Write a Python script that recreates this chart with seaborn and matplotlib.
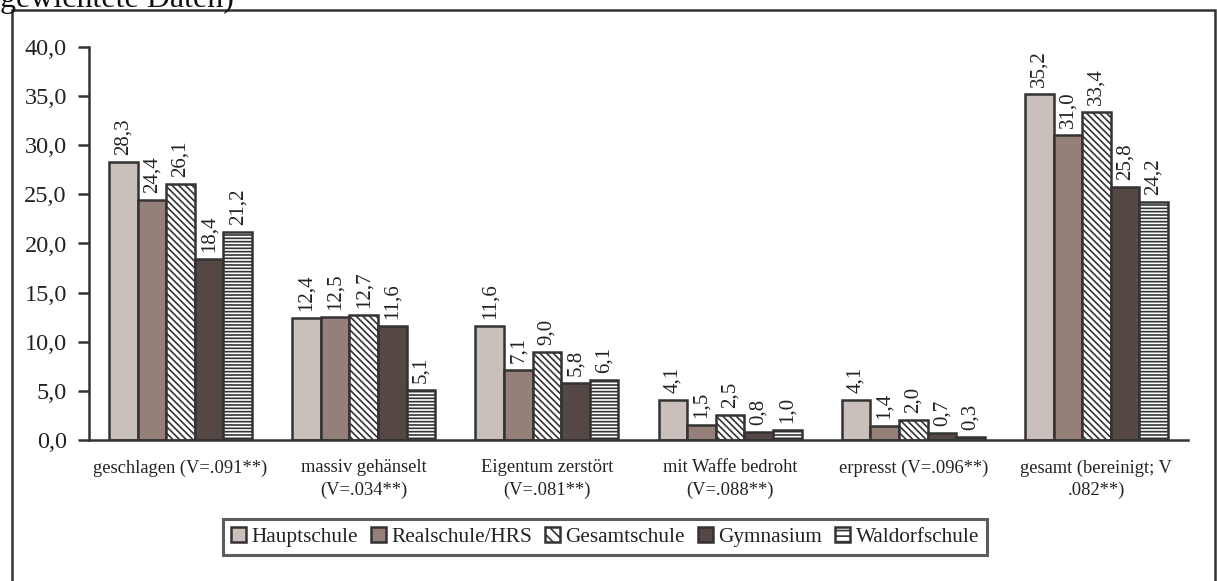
import numpy as np
import pandas as pd
import seaborn as sns
import matplotlib.pyplot as plt
from matplotlib.patches import Rectangle

categories = ['geschlagen (V=.091**)', 'massiv gehänselt\n(V=.034**)', 'Eigentum zerstört\n(V=.081**)',
              'mit Waffe bedroht\n(V=.088**)', 'erpresst (V=.096**)', 'gesamt (bereinigt; V\n.082**)']
schools = ['Hauptschule', 'Realschule/HRS', 'Gesamtschule', 'Gymnasium', 'Waldorfschule']
hauptschule = [28.3, 12.4, 11.6, 4.1, 4.1, 35.2]
realschule = [24.4, 12.5, 7.1, 1.5, 1.4, 31.0]
gesamtschule = [26.1, 12.7, 9.0, 2.5, 2.0, 33.4]
gymnasium = [18.4, 11.6, 5.8, 0.8, 0.7, 25.8]
waldorfschule = [21.2, 5.1, 6.1, 1.0, 0.3, 24.2]

series = [hauptschule, realschule, gesamtschule, gymnasium, waldorfschule]
rows = []
for s, vals in zip(schools, series):
    for c, v in zip(categories, vals):
        rows.append({'cat': c, 'school': s, 'value': v})
df = pd.DataFrame(rows)

colors = ['#c9bfbb', '#958079', '#ffffff', '#554743', '#ffffff']
hatches = [None, None, '\\\\\\\\\\', None, '-----']

sns.set_style('white')
plt.rcParams['font.family'] = ['Liberation Serif', 'DejaVu Serif']
plt.rcParams['hatch.color'] = '#333333'
plt.rcParams['hatch.linewidth'] = 1.2

fig = plt.figure(figsize=(12.17, 5.81), dpi=100)
ax = fig.add_axes([89 / 1217, 1 - 440 / 581, (1188 - 89) / 1217, (440 - 47) / 581])

sns.barplot(data=df, x='cat', y='value', hue='school', hue_order=schools,
            palette=colors, width=0.78, edgecolor='#333333', linewidth=1.8,
            saturation=1, errorbar=None, ax=ax, legend=True)

for cont, h in zip(ax.containers, hatches):
    for bar in cont:
        if h:
            bar.set_hatch(h)
    ax.bar_label(cont, labels=[f'{v:.1f}'.replace('.', ',') for v in cont.datavalues],
                 rotation=90, padding=5, fontsize=15, color='#222222')

ax.set_ylim(0, 40)
ax.set_xlim(-0.5, 5.5)
ax.set_yticks(np.arange(0, 41, 5))
ax.set_yticklabels([f'{v:.1f}'.replace('.', ',') for v in np.arange(0, 41, 5)], fontsize=17.5, color='#222222')
ax.set_xticks(range(6))
ax.set_xticklabels(categories, fontsize=13.3, linespacing=1.4, color='#222222')
ax.set_xticks(np.arange(-0.5, 6, 1), minor=True)
ax.tick_params(axis='x', which='major', length=0, pad=14)
ax.tick_params(axis='x', which='minor', length=6, width=1.8, color='#333333', direction='out')
ax.tick_params(axis='y', length=8, width=1.8, color='#333333', direction='out', left=True, pad=8)
ax.set_xlabel('')
ax.set_ylabel('')
for sp in ['top', 'right']:
    ax.spines[sp].set_visible(False)
for sp in ['left', 'bottom']:
    ax.spines[sp].set_color('#333333')
    ax.spines[sp].set_linewidth(1.8)

leg = ax.legend(loc='center', bbox_to_anchor=(605 / 1217, 1 - 537 / 581), bbox_transform=fig.transFigure,
                ncol=5, frameon=True, fancybox=False, fontsize=15.3, handlelength=0.72, handleheight=0.72,
                handletextpad=0.25, columnspacing=0.6, borderpad=0.38, borderaxespad=0)
leg.get_frame().set_edgecolor('#333333')
leg.get_frame().set_linewidth(2.2)
for t in leg.get_texts():
    t.set_color('#222222')
for h, hh in zip(leg.legend_handles, hatches):
    h.set_edgecolor('#333333')
    h.set_linewidth(1.8)
    if hh:
        h.set_hatch('\\\\\\' if hh.startswith('\\') else '---')

fig.patches.append(Rectangle((12 / 1217, -0.05), (1215 - 12) / 1217, 1.05 - 10 / 581,
                             transform=fig.transFigure, fill=False, edgecolor='#333333', linewidth=1.8))
fig.text(0.0, 1.0 + 1 / 581, 'gewichtete Daten)', fontsize=23, va='center', ha='left', color='#111111')

fig.savefig('out.png', dpi=100)
